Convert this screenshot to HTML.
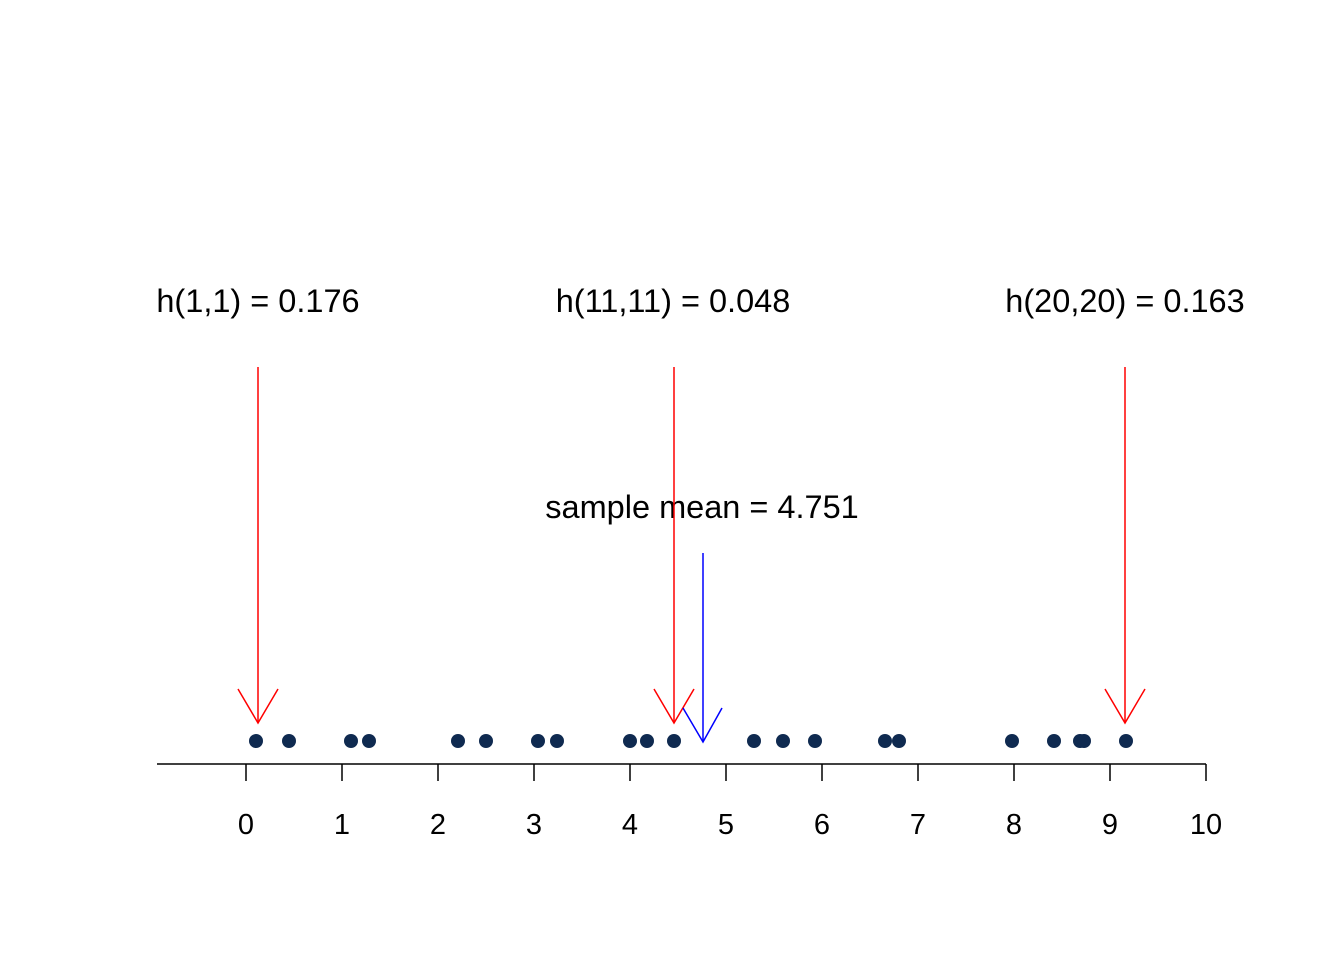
<!DOCTYPE html>
<html><head><meta charset="utf-8"><style>html,body{margin:0;padding:0;background:#fff}</style></head>
<body>
<svg width="1344" height="960" xmlns="http://www.w3.org/2000/svg" font-family="Liberation Sans, Arial, sans-serif">
<rect width="1344" height="960" fill="#fff"/>
<g stroke="#000" stroke-width="1.5" fill="none">
<line x1="157" y1="764" x2="1206" y2="764"/>
<line x1="246" y1="764" x2="246" y2="781"/>
<line x1="342" y1="764" x2="342" y2="781"/>
<line x1="438" y1="764" x2="438" y2="781"/>
<line x1="534" y1="764" x2="534" y2="781"/>
<line x1="630" y1="764" x2="630" y2="781"/>
<line x1="726" y1="764" x2="726" y2="781"/>
<line x1="822" y1="764" x2="822" y2="781"/>
<line x1="918" y1="764" x2="918" y2="781"/>
<line x1="1014" y1="764" x2="1014" y2="781"/>
<line x1="1110" y1="764" x2="1110" y2="781"/>
<line x1="1206" y1="764" x2="1206" y2="781"/>
</g>
<g font-size="29" text-anchor="middle" fill="#000">
<text x="246" y="834">0</text><text x="342" y="834">1</text><text x="438" y="834">2</text>
<text x="534" y="834">3</text><text x="630" y="834">4</text><text x="726" y="834">5</text>
<text x="822" y="834">6</text><text x="918" y="834">7</text><text x="1014" y="834">8</text>
<text x="1110" y="834">9</text><text x="1206" y="834">10</text>
</g>
<g font-size="32.5" text-anchor="middle" fill="#000">
<text x="258" y="312">h(1,1) = 0.176</text>
<text x="673" y="312">h(11,11) = 0.048</text>
<text x="1125" y="312">h(20,20) = 0.163</text>
<text x="702" y="518">sample mean = 4.751</text>
</g>
<g fill="#0f2a50">
<circle cx="256" cy="741" r="7"/><circle cx="289" cy="741" r="7"/><circle cx="351" cy="741" r="7"/>
<circle cx="369" cy="741" r="7"/><circle cx="458" cy="741" r="7"/><circle cx="486" cy="741" r="7"/>
<circle cx="538" cy="741" r="7"/><circle cx="557" cy="741" r="7"/><circle cx="630" cy="741" r="7"/>
<circle cx="647" cy="741" r="7"/><circle cx="674" cy="741" r="7"/><circle cx="754" cy="741" r="7"/>
<circle cx="783" cy="741" r="7"/><circle cx="815" cy="741" r="7"/><circle cx="885" cy="741" r="7"/>
<circle cx="899" cy="741" r="7"/><circle cx="1012" cy="741" r="7"/><circle cx="1054" cy="741" r="7"/>
<circle cx="1080" cy="741" r="7"/><circle cx="1084" cy="741" r="7"/><circle cx="1126" cy="741" r="7"/>
</g>
<g stroke="#ff0000" stroke-width="1.5" fill="none">
<line x1="258" y1="367" x2="258" y2="723"/><polyline points="238,689 258,723 278,689"/>
<line x1="674" y1="367" x2="674" y2="723"/><polyline points="654,689 674,723 694,689"/>
<line x1="1125" y1="367" x2="1125" y2="723"/><polyline points="1105,689 1125,723 1145,689"/>
</g>
<g stroke="#0000ff" stroke-width="1.5" fill="none">
<line x1="703" y1="553" x2="703" y2="742"/><polyline points="683,708 703,742 722,708"/>
</g>
</svg>
</body></html>
